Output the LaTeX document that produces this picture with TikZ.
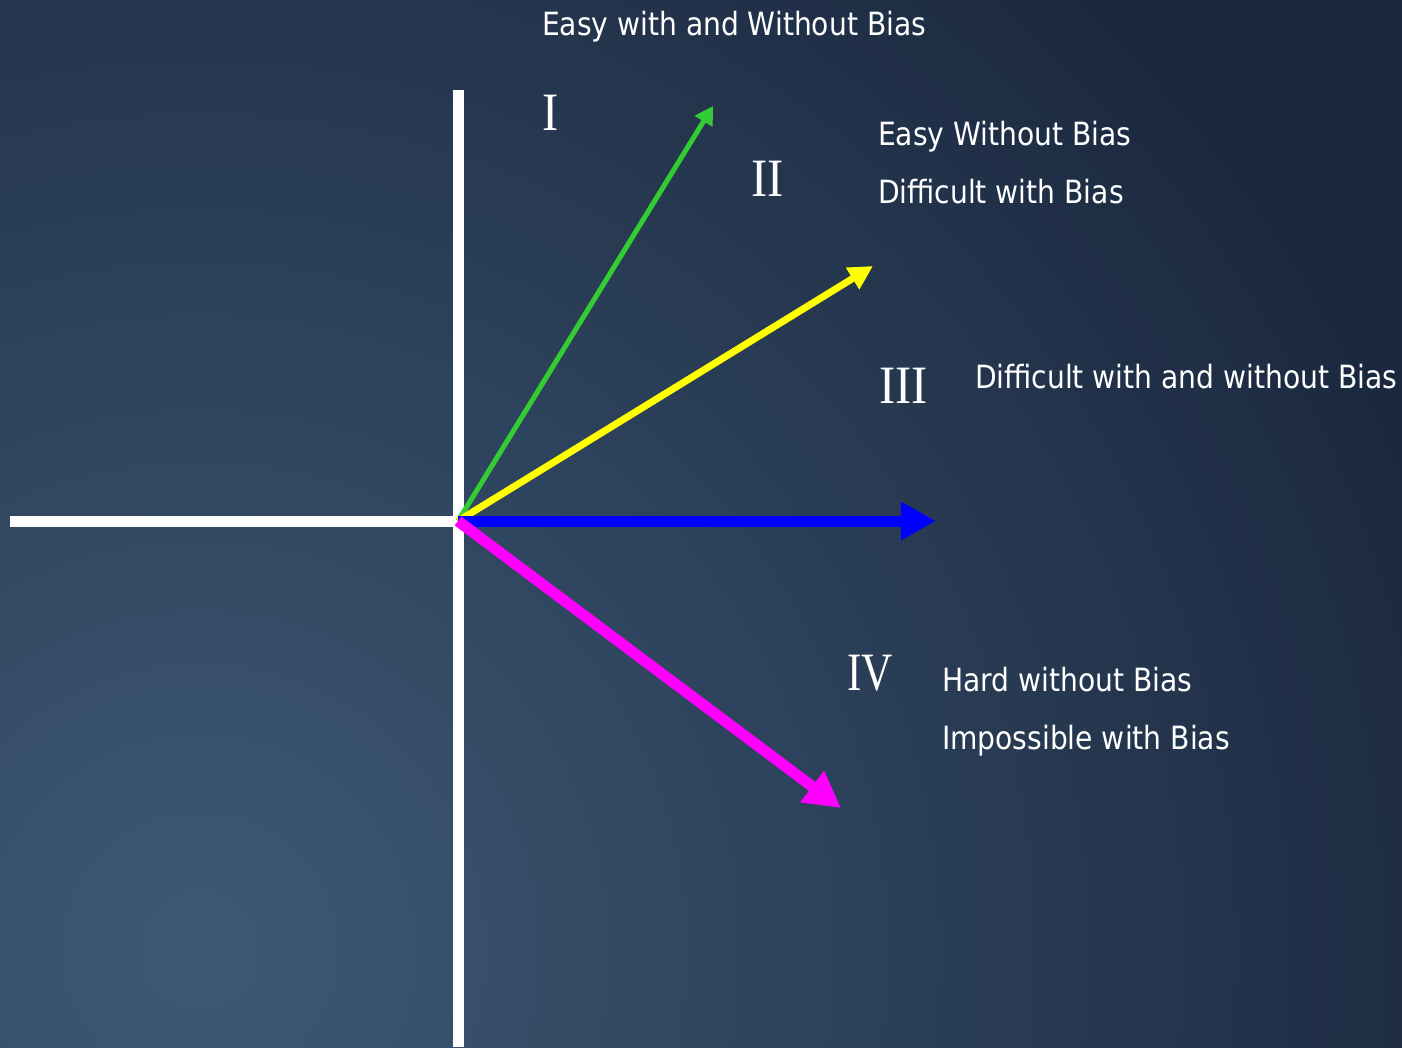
\documentclass[tikz,border=0pt]{standalone}
\usepackage{fontspec}
\usepackage{graphicx}
\setmainfont{DejaVu Sans}
\newfontfamily\romanfont{Liberation Serif}
\usetikzlibrary{arrows.meta}
\definecolor{bgA}{HTML}{3E5975}
\definecolor{bgB}{HTML}{1B2940}
\definecolor{arGreen}{HTML}{33CC33}
\definecolor{arYellow}{HTML}{FFFF00}
\definecolor{arBlue}{HTML}{0000FF}
\definecolor{arMag}{HTML}{FF00FF}
\newcommand\tx[1]{\scalebox{0.88}[1]{\fontsize{32}{38}\selectfont #1}}
\newcommand\rn[2][0.9]{\scalebox{#1}[1]{\romanfont\fontsize{54}{60}\selectfont #2}}
\begin{document}
\begin{tikzpicture}[x=1pt,y=-1pt,
  lbl/.style={anchor=base west,inner sep=0pt,outer sep=0pt,text=white},
  axisline/.style={draw=white,line width=11pt}]
\useasboundingbox (0,0) rectangle (1402,1047);
\begin{scope}
\clip (0,0) rectangle (1402,1047);
\fill[bgB] (0,0) rectangle (1402,1047);
\foreach \i in {52,51,...,0}{
  \pgfmathsetmacro{\pc}{max(0,100*(1-\i*25/1300))}
  \fill[bgA!\pc!bgB] (200,950) circle ({\i*25+12.5});
}
\end{scope}
% axes
\coordinate (O) at (458,521);
\coordinate (ytop) at (458,90);
\coordinate (ybot) at (458,1047);
\coordinate (xleft) at (10,521);
\draw[axisline] (ytop) -- (ybot);
\draw[axisline] (xleft) -- (O);
% vectors
\coordinate (g) at (713,106);
\coordinate (y) at (873,266);
\coordinate (b) at (936,521);
\coordinate (m) at (841,808);
\draw[arGreen,line width=5pt,-{Triangle[length=18pt,width=20pt]}] (O) -- (g);
\draw[arYellow,line width=7pt,-{Triangle[length=24pt,width=24pt]}] (O) -- (y);
\draw[arBlue,line width=11pt,-{Triangle[length=35pt,width=36pt]}] (O) -- (b);
\draw[arMag,line width=11pt,-{Triangle[length=36pt,width=37pt]}] (O) -- (m);
% labels
\node[lbl] (t0) at (542,35) {\tx{Easy with and Without Bias}};
\node[lbl] (r1) at (542,130) {\rn{I}};
\node[lbl] (r2) at (751,196) {\rn{II}};
\node[lbl] (r3) at (879,403) {\rn{III}};
\node[lbl] (r4) at (847,690) {\rn[0.8]{IV}};
\node[lbl] (t1) at (878,145) {\tx{Easy Without Bias}};
\node[lbl] (t2) at (878,203) {\tx{Difficult with Bias}};
\node[lbl] (t3) at (975,388) {\tx{Difficult with and without Bias}};
\node[lbl] (t4) at (942,691) {\tx{Hard without Bias}};
\node[lbl] (t5) at (942,749) {\tx{Impossible with Bias}};
\end{tikzpicture}
\end{document}
